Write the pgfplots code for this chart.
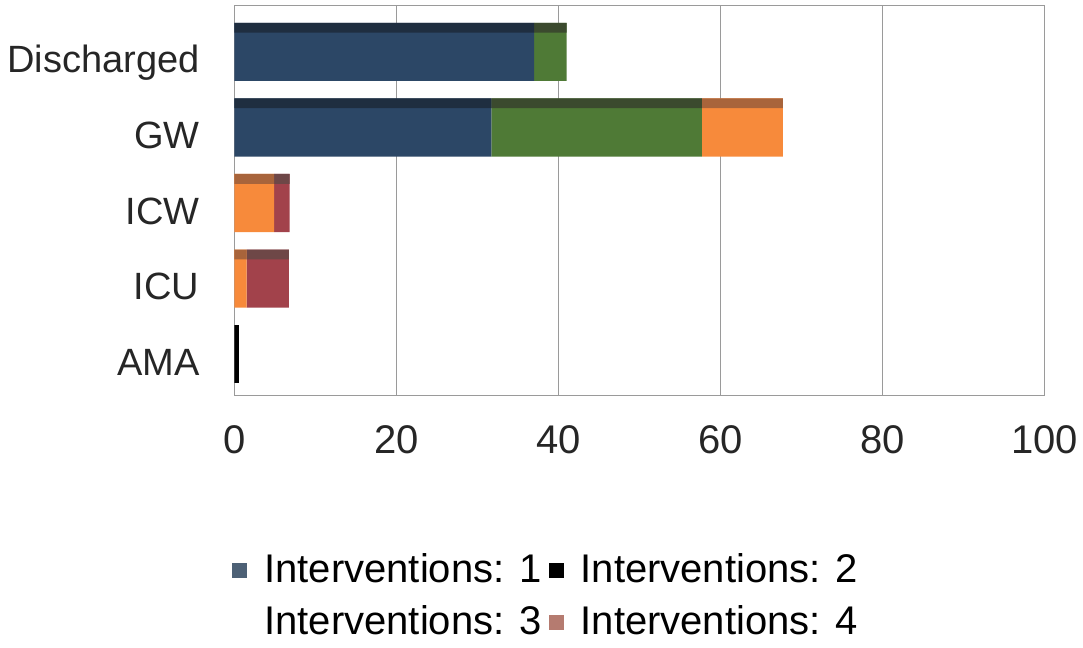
\documentclass[border=0pt]{standalone}
\usepackage{fontspec}
\setmainfont{Liberation Sans}
\usepackage{pgfplots}
\pgfplotsset{compat=1.18}
\usepackage{pgfplotstable}

\definecolor{iBlue}{HTML}{2C4766}
\definecolor{iGreen}{HTML}{4F7A36}
\definecolor{iOrange}{HTML}{F78A3B}
\definecolor{iRed}{HTML}{A2424B}
\definecolor{sBlue}{HTML}{1F2E40}
\definecolor{sGreen}{HTML}{3B4A2E}
\definecolor{sOrange}{HTML}{A8643B}
\definecolor{sRed}{HTML}{6E4747}
\definecolor{legA}{HTML}{4D6176}
\definecolor{legD}{HTML}{B57B70}
\definecolor{frame}{HTML}{9A9A9A}

% rows: 4 = Discharged ... 0 = AMA (s5 is the thin AMA sliver)
\pgfplotstableread{
y  s1    s2  s3   s4   s5
4  37    4   0    0    0
3  31.7  26  10   0    0
2  0     0   4.9  1.9  0
1  0     0   1.5  5.2  0
0  0     0   0    0    0.6
}\wards

\pgfplotsset{base/.style={
    scale only axis,
    width=405pt, height=195pt,
    xmin=0, xmax=100, ymin=-0.54, ymax=4.62,
    xbar stacked,
}}

\begin{document}
\begin{tikzpicture}
  \begin{axis}[
    base, name=main,
    bar width=0.77,
    axis line style={frame},
    xmajorgrids, grid style={frame, line width=0.6pt},
    xtick={0,20,...,100},
    ytick={0,...,4},
    yticklabels={AMA,ICU,ICW,GW,Discharged},
    major tick length=0pt,
    ticklabel style={text=black!85},
    /pgf/number format/assume math mode=true,
    xticklabel style={font=\fontsize{20}{24}\selectfont, anchor=center, yshift=-22.5pt},
    yticklabel style={font=\fontsize{19}{22}\selectfont, anchor=base east, xshift=-14pt, yshift=-10.5pt},
    legend columns=2,
    legend style={
      at={(0.386,-0.513)}, anchor=center,
      draw=none, fill=none,
      font=\fontsize{20}{25}\selectfont,
      nodes={inner ysep=1pt, inner xsep=2pt},
      row sep=8pt,
      /tikz/every even column/.append style={column sep=1.5pt}},
    ]
    \addplot[fill=iBlue, draw=none,
      legend image code/.code={\fill[legA] (0pt,-4.5pt) rectangle (7.5pt,3pt); \path[draw=none,fill=none] (0pt,0pt) rectangle (14pt,0.1pt);}]
      table[x=s1, y=y] {\wards};
    \addplot[fill=iGreen, draw=none,
      legend image code/.code={\fill[black] (0pt,-4.5pt) rectangle (7.5pt,3pt); \path[draw=none,fill=none] (0pt,0pt) rectangle (14pt,0.1pt);}]
      table[x=s2, y=y] {\wards};
    \addplot[fill=iOrange, draw=none,
      legend image code/.code={\path[draw=none,fill=none] (0pt,0pt) rectangle (6pt,0.1pt);}]
      table[x=s3, y=y] {\wards};
    \addplot[fill=iRed, draw=none,
      legend image code/.code={\fill[legD] (0pt,-4.5pt) rectangle (7.5pt,3pt); \path[draw=none,fill=none] (0pt,0pt) rectangle (14pt,0.1pt);}]
      table[x=s4, y=y] {\wards};
    \addplot[fill=black, draw=none, forget plot] table[x=s5, y=y] {\wards};
    \legend{Interventions: 1,Interventions: 2,Interventions: 3,Interventions: 4}
  \end{axis}

  % darker band along the top of each bar
  \begin{axis}[
    base, hide axis,
    bar width=0.13, bar shift=0.32,
    ]
    \addplot[fill=sBlue, draw=none] table[x=s1, y=y] {\wards};
    \addplot[fill=sGreen, draw=none] table[x=s2, y=y] {\wards};
    \addplot[fill=sOrange, draw=none] table[x=s3, y=y] {\wards};
    \addplot[fill=sRed, draw=none] table[x=s4, y=y] {\wards};
  \end{axis}

  \pgfresetboundingbox
  \path[use as bounding box]
    ([xshift=-117.25pt, yshift=-126.5pt]main.south west)
    rectangle ([xshift=19.25pt, yshift=2.5pt]main.north east);
\end{tikzpicture}
\end{document}
